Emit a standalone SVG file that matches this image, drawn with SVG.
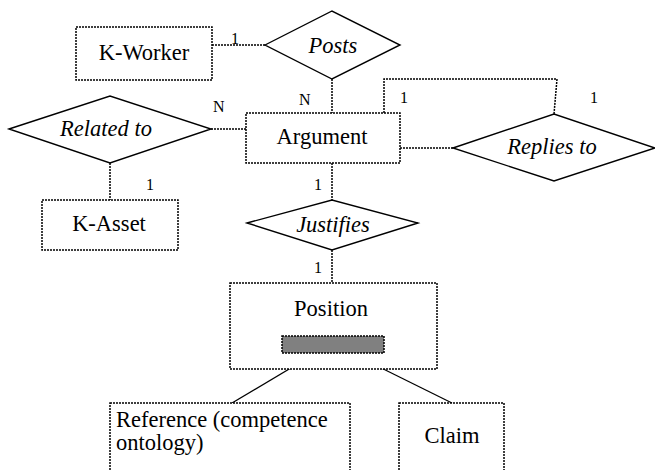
<svg xmlns="http://www.w3.org/2000/svg" width="655" height="470" viewBox="0 0 655 470">
<style>
.box{fill:#fff;stroke:#000;stroke-width:1.5;stroke-dasharray:2,1}
.dia{fill:#fff;stroke:#000;stroke-width:1.4}
.con{fill:none;stroke:#000;stroke-width:1.5;stroke-dasharray:2,1}
.sol{fill:none;stroke:#000;stroke-width:1.3}
.lbl{font-family:"Liberation Serif",serif;font-size:22.5px;fill:#000;text-anchor:middle}
.rel{font-style:italic}
.card{font-family:"Liberation Serif",serif;font-size:16px;fill:#000}
</style>
<rect width="655" height="470" fill="#fff"/>
<g id="connectors">
<path class="con" d="M212,45 H265"/>
<path class="con" d="M332,79 V113"/>
<path class="con" d="M211,129 H246"/>
<path class="con" d="M110,163 V200"/>
<path class="con" d="M400,148 H453"/>
<path class="con" d="M384,113 V79 H557 L554,114"/>
<path class="con" d="M332,163 V200"/>
<path class="con" d="M332,250 V283"/>
<path class="sol" d="M316,353 L232,403"/>
<path class="sol" d="M351,353 L452,403"/>
<text class="card" x="231" y="44">1</text>
<text class="card" x="299" y="105">N</text>
<text class="card" x="213" y="112">N</text>
<text class="card" x="146" y="190">1</text>
<text class="card" x="314" y="190">1</text>
<text class="card" x="314" y="273">1</text>
<text class="card" x="400" y="103">1</text>
<text class="card" x="590" y="103">1</text>
</g>
<g id="kworker">
<rect class="box" x="76" y="27" width="136" height="53"/>
<text class="lbl" x="144" y="60">K-Worker</text>
</g>
<g id="posts">
<polygon class="dia" points="265,45 332,11 400,45 332,79"/>
<text class="lbl rel" x="333" y="53">Posts</text>
</g>
<g id="relatedto">
<polygon class="dia" points="9,129 110,96 211,129 110,163"/>
<text class="lbl rel" x="106" y="136">Related to</text>
</g>
<g id="argument">
<rect class="box" x="246" y="113" width="154" height="50"/>
<text class="lbl" x="322" y="144">Argument</text>
</g>
<g id="repliesto">
<polygon class="dia" points="453,148 554,114 655,148 554,181"/>
<text class="lbl rel" x="552" y="154">Replies to</text>
</g>
<g id="kasset">
<rect class="box" x="42" y="200" width="136" height="50"/>
<text class="lbl" x="109" y="231">K-Asset</text>
</g>
<g id="justifies">
<polygon class="dia" points="247,223 332,200 418,223 332,250"/>
<text class="lbl rel" x="333" y="232">Justifies</text>
</g>
<g id="position">
<rect class="box" x="230" y="283" width="207" height="86"/>
<text class="lbl" x="331" y="316">Position</text>
<rect class="box" x="282" y="336" width="102" height="17" style="fill:#808080"/>
</g>
<g id="reference">
<rect class="box" x="110" y="403" width="240" height="80"/>
<text class="lbl" x="116" y="427" style="text-anchor:start">Reference (competence</text>
<text class="lbl" x="116" y="450" style="text-anchor:start">ontology)</text>
</g>
<g id="claim">
<rect class="box" x="399" y="403" width="105" height="80"/>
<text class="lbl" x="452" y="443">Claim</text>
</g>
</svg>
